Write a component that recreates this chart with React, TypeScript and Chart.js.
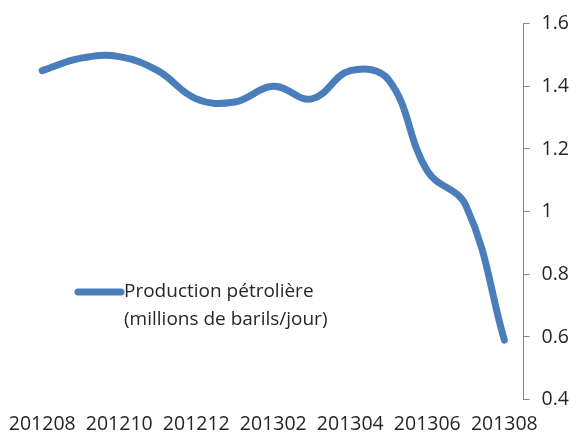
import React, { useEffect, useRef } from "react";
import { Chart, registerables } from "chart.js";

Chart.register(...registerables);

const months = [
  "201208", "201209", "201210", "201211", "201212", "201301", "201302",
  "201303", "201304", "201305", "201306", "201307", "201308",
];
const production = [1.45, 1.49, 1.495, 1.45, 1.36, 1.35, 1.4, 1.36, 1.45, 1.42, 1.13, 1.02, 0.59];
const legendLines = ["Production pétrolière", "(millions de barils/jour)"];

const LINE_COLOR = "#4a7ebb";
const FONT = "'Open Sans', sans-serif";

const legendPlugin = {
  id: "customLegend",
  afterDraw(chart: any) {
    const ctx = chart.ctx;
    ctx.save();
    ctx.strokeStyle = LINE_COLOR;
    ctx.lineWidth = 7;
    ctx.lineCap = "round";
    ctx.beginPath();
    ctx.moveTo(78, 292);
    ctx.lineTo(121, 292);
    ctx.stroke();
    ctx.fillStyle = "#262626";
    ctx.font = "19px " + FONT;
    ctx.textBaseline = "middle";
    ctx.textAlign = "left";
    ctx.fillText(legendLines[0], 124, 292);
    ctx.fillText(legendLines[1], 124, 320);
    ctx.restore();
  },
};

export default function App() {
  const ref = useRef<HTMLCanvasElement | null>(null);
  useEffect(() => {
    if (!ref.current) return;
    const chart = new Chart(ref.current, {
      type: "line",
      data: {
        labels: months,
        datasets: [
          {
            label: legendLines.join(" "),
            data: production,
            borderColor: LINE_COLOR,
            backgroundColor: LINE_COLOR,
            borderWidth: 7,
            borderCapStyle: "round",
            borderJoinStyle: "round",
            pointRadius: 0,
            tension: 0.4,
            fill: false,
          },
        ],
      },
      options: {
        responsive: false,
        animation: false,
        layout: { autoPadding: false, padding: { top: 19, right: -4, left: 23, bottom: -17 } },
        plugins: { legend: { display: false }, tooltip: { enabled: false } },
        scales: {
          x: {
            offset: true,
            grid: { display: false, drawTicks: false },
            border: { display: false },
            afterFit: (scale: any) => {
              scale.paddingLeft = 0;
              scale.paddingRight = 0;
            },
            ticks: {
              autoSkip: false,
              maxRotation: 0,
              minRotation: 0,
              padding: 13,
              color: "#262626",
              font: { family: FONT, size: 19.5 },
              callback: (_v: any, i: number) => (i % 2 === 0 ? months[i] : ""),
            },
          },
          y: {
            position: "right",
            min: 0.4,
            max: 1.6,
            grid: { display: true, drawOnChartArea: false, drawTicks: true, tickLength: 6, color: "#868686", lineWidth: 1 },
            border: { display: true, color: "#868686", width: 1 },
            ticks: {
              stepSize: 0.2,
              padding: 12,
              color: "#262626",
              font: { family: FONT, size: 19.5 },
              callback: (v: any) => String(Math.round(Number(v) * 10) / 10),
            },
          },
        },
      },
      plugins: [legendPlugin],
    });
    return () => chart.destroy();
  }, []);
  return (
    <div style={{ position: "absolute", left: 0, top: 0, width: 577, height: 432, background: "#fff" }}>
      <canvas ref={ref} width={577} height={432} style={{ width: 577, height: 432 }} />
    </div>
  );
}
